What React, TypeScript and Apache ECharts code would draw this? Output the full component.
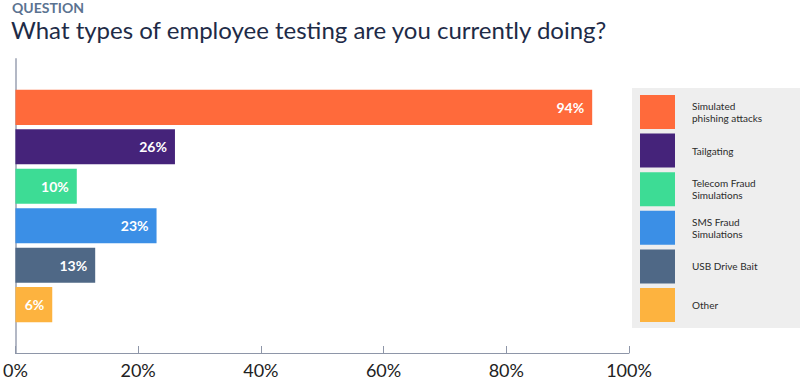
import React, { useEffect, useRef } from "react";
import * as echarts from "echarts";

const seriesNames = [
  "Simulated phishing attacks",
  "Tailgating",
  "Telecom Fraud Simulations",
  "SMS Fraud Simulations",
  "USB Drive Bait",
  "Other",
];
const legendLabels = [
  "Simulated\nphishing attacks",
  "Tailgating",
  "Telecom Fraud\nSimulations",
  "SMS Fraud\nSimulations",
  "USB Drive Bait",
  "Other",
];
const values = [94, 26, 10, 23, 13, 6];
const colors = ["#ff6a3b", "#45237a", "#3ddc95", "#3b8fe6", "#4f6886", "#fdb33f"];
const categories = [""];

export default function App() {
  const ref = useRef<HTMLDivElement>(null);
  useEffect(() => {
    document.body.style.margin = "0";
    const chart = echarts.init(ref.current!, null, { renderer: "svg" });
    const font = "Lato, 'Noto Sans', sans-serif";
    chart.setOption({
      animation: false,
      textStyle: { fontFamily: font },
      title: [
        {
          text: "QUESTION",
          left: 12,
          top: 0,
          padding: 0,
          textStyle: { fontSize: 14, fontWeight: "bold", color: "#5b7391", fontFamily: font, lineHeight: 15 },
        },
        {
          text: "What types of employee testing are you currently doing?",
          left: 11,
          top: 16,
          padding: 0,
          textStyle: { fontSize: 24, fontWeight: "normal", color: "#1e2b47", fontFamily: font, lineHeight: 26 },
        },
      ],
      graphic: [
        {
          type: "rect",
          z: 0,
          shape: { x: 632, y: 88, width: 168, height: 240 },
          style: { fill: "#eeeeee" },
        },
      ],
      legend: {
        orient: "vertical",
        left: 640,
        top: 95,
        padding: 0,
        itemWidth: 35,
        itemHeight: 34,
        itemGap: 4.6,
        icon: "rect",
        data: seriesNames,
        formatter: (name: string) => legendLabels[seriesNames.indexOf(name)],
        textStyle: {
          fontSize: 10,
          color: "#2b2b2b",
          fontFamily: font,
          lineHeight: 12,
          padding: [0, 0, 2, 12],
        },
      },
      grid: { left: 13, right: 171, top: 59, bottom: 27, containLabel: false },
      xAxis: {
        type: "value",
        min: 0,
        max: 100,
        interval: 20,
        axisLine: { show: true, lineStyle: { color: "#8e96a8", width: 1 } },
        axisTick: { show: true, inside: true, length: 7, lineStyle: { color: "#8e96a8" } },
        splitLine: { show: false },
        axisLabel: {
          formatter: "{value}%",
          fontSize: 18,
          color: "#222",
          fontFamily: font,
          margin: 8,
        },
      },
      yAxis: {
        type: "category",
        data: categories,
        inverse: true,
        axisLine: { show: true, lineStyle: { color: "#b3b8c5", width: 2 } },
        axisTick: { show: false },
        axisLabel: { show: false },
      },
      series: seriesNames.map((name, i) => ({
        type: "bar",
        name,
        data: [values[i]],
        barGap: "12.5%",
        barCategoryGap: "21%",
        itemStyle: { color: colors[i] },
        label: {
          show: true,
          position: "insideRight",
          distance: 8,
          formatter: "{c}%",
          color: "#fff",
          fontSize: 14,
          fontWeight: "bold",
          fontFamily: font,
        },
      })),
    });
    return () => chart.dispose();
  }, []);
  return <div ref={ref} style={{ width: 800, height: 380 }} />;
}
